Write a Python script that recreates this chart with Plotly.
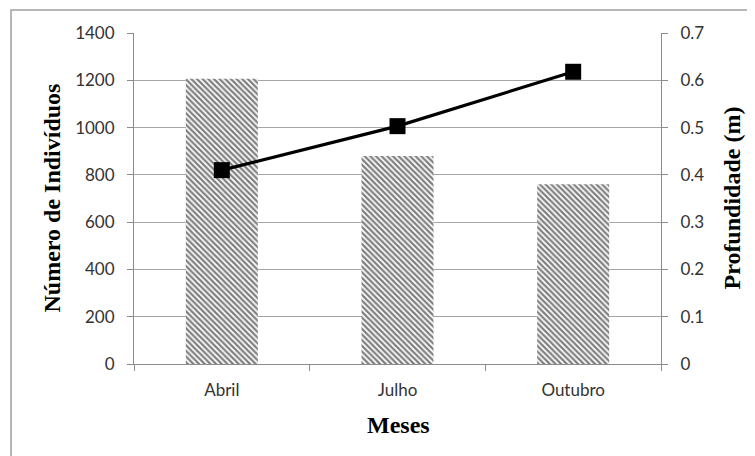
import plotly.graph_objects as go

meses = ["Abril", "Julho", "Outubro"]
individuos = [1207, 880, 760]
profundidade = [0.41, 0.503, 0.618]
y1_ticks = [0, 200, 400, 600, 800, 1000, 1200, 1400]
y2_ticks = [0, 0.1, 0.2, 0.3, 0.4, 0.5, 0.6, 0.7]
y2_labels = ["0", "0.1", "0.2", "0.3", "0.4", "0.5", "0.6", "0.7"]

fig = go.Figure()
fig.add_trace(go.Bar(
    x=meses, y=individuos, width=0.41,
    marker=dict(color="white", line=dict(width=0),
                pattern=dict(shape="\\", fgcolor="#000000", bgcolor="white",
                             size=4, solidity=0.55)),
    yaxis="y", showlegend=False,
))
fig.add_trace(go.Scatter(
    x=meses, y=profundidade, mode="lines+markers",
    line=dict(color="black", width=3.2),
    marker=dict(symbol="square", size=16, color="black"),
    yaxis="y2", showlegend=False,
))

tickfont = dict(family="Lato, Open Sans, sans-serif", size=17, color="#333333")
titlefont = dict(family="Liberation Serif, Times New Roman, serif", size=24, color="black")

# page has an 8px body margin; plot area in page pixels: x 134..661, y 33..364
fig.update_layout(
    width=755, height=456,
    margin=dict(l=126, r=102, t=25, b=100),
    paper_bgcolor="white", plot_bgcolor="white",
    bargap=0.59,
    xaxis=dict(type="category", showline=True, linecolor="#8c8c8c", linewidth=1,
               ticks="outside", tickson="boundaries", ticklen=6, tickcolor="#8c8c8c",
               tickfont=tickfont, showgrid=False, ticklabelstandoff=11),
    yaxis=dict(range=[0, 1400], tickvals=y1_ticks, showline=True, linecolor="#8c8c8c",
               linewidth=1, ticks="outside", ticklen=6, tickcolor="#8c8c8c",
               gridcolor="#a6a6a6", gridwidth=1, tickfont=tickfont, zeroline=False,
               ticklabelstandoff=9),
    yaxis2=dict(range=[0, 0.7], tickvals=y2_ticks, ticktext=y2_labels, overlaying="y",
                side="right", showline=True, linecolor="#8c8c8c", linewidth=1,
                ticks="outside", ticklen=6, tickcolor="#8c8c8c", showgrid=False,
                tickfont=tickfont, zeroline=False, ticklabelstandoff=9),
    annotations=[
        dict(text="<b>Número de Indivíduos</b>", xref="paper", yref="paper",
             x=(51 - 134) / 527, y=0.5, textangle=-90, showarrow=False,
             font=titlefont, xanchor="center", yanchor="middle"),
        dict(text="<b>Profundidade (m)</b>", xref="paper", yref="paper",
             x=(731 - 134) / 527, y=0.5, textangle=-90, showarrow=False,
             font=titlefont, xanchor="center", yanchor="middle"),
        dict(text="<b>Meses</b>", xref="paper", yref="paper",
             x=(398 - 134) / 527, y=(364 - 425) / 331, showarrow=False,
             font=titlefont, xanchor="center", yanchor="middle"),
    ],
    shapes=[dict(type="rect", xref="paper", yref="paper",
                 x0=(11 - 134) / 527, x1=(780 - 134) / 527,
                 y0=(364 - 480) / 331, y1=(364 - 10) / 331,
                 line=dict(color="#a0a0a0", width=1.5), layer="below")],
)

fig.write_html("out.html")
